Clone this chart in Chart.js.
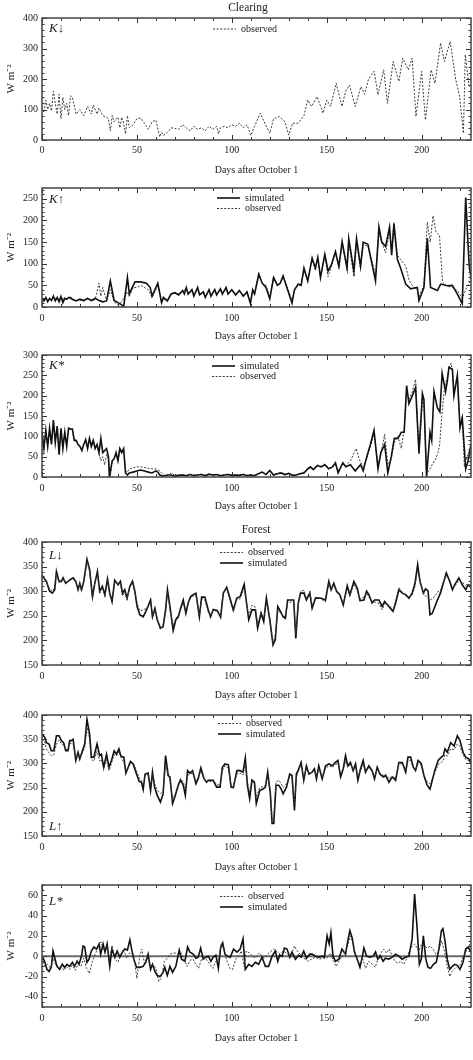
<!DOCTYPE html>
<html>
<head>
<meta charset="utf-8">
<title>Clearing and forest radiation</title>
<script src="https://cdn.jsdelivr.net/npm/chart.js@4.4.1/dist/chart.umd.min.js"></script>
<style>
  html, body { margin: 0; padding: 0; background: #fff; }
  #wrap { position: relative; width: 473px; height: 1060px; }
  #wrap canvas { position: absolute; left: 0; }
</style>
</head>
<body>
<div id="wrap"></div>
<script>
// [day after October 1, W m-2]
const kDownObs = [[0,110],[1,90],[2,130],[3,100],[4,120],[5,95],[6,160],[7,120],[8,85],[9,150],[10,70],[11,140],[12,100],[13,120],[14,80],[15,145],[16,140],[18,85],[20,100],[22,80],[24,110],[26,85],[27,115],[29,85],[30,105],[32,80],[34,75],[35,70],[36,30],[37,80],[38,60],[40,75],[41,40],[42,75],[43,55],[44,20],[45,80],[46,40],[48,50],[50,70],[52,72],[54,55],[56,35],[58,60],[60,65],[62,10],[63,25],[64,15],[66,25],[68,40],[70,38],[72,35],[74,50],[76,40],[78,30],[80,45],[82,35],[84,40],[86,30],[88,45],[90,35],[92,45],[93,20],[94,40],[96,45],[98,40],[100,50],[102,45],[104,55],[106,40],[108,50],[110,15],[112,45],[115,88],[117,60],[120,22],[122,70],[125,77],[128,60],[130,16],[132,55],[135,55],[138,80],[140,131],[142,110],[145,142],[148,88],[150,131],[152,110],[155,186],[158,110],[160,160],[162,180],[165,110],[168,175],[170,150],[172,200],[175,225],[177,148],[180,230],[182,120],[185,257],[188,192],[190,268],[193,230],[195,268],[197,77],[200,225],[202,66],[205,230],[207,186],[210,318],[212,257],[215,323],[218,197],[220,142],[222,22],[223,280],[225,175]];

const kUpSim = [[0,20],[1,14],[2,22],[3,12],[4,20],[5,15],[6,25],[7,14],[8,22],[9,12],[10,24],[11,10],[12,20],[13,18],[14,22],[15,22],[16,18],[18,14],[20,18],[22,15],[24,20],[26,15],[28,20],[30,15],[32,12],[34,14],[36,60],[38,15],[40,10],[42,5],[43,0],[45,68],[46,30],[47,40],[49,58],[52,58],[55,55],[57,45],[58,25],[60,45],[61,55],[63,10],[64,22],[66,14],[68,30],[70,33],[72,28],[74,38],[75,30],[76,45],[77,30],[79,40],[80,25],[82,45],[83,28],[85,35],[86,22],[88,40],[89,25],[91,40],[92,28],[94,42],[95,30],[97,45],[98,30],[100,40],[102,28],[104,38],[106,25],[108,35],[109.8,8],[111,40],[112,30],[114.2,75],[116,55],[118,45],[120,19],[122,68],[124,50],[125.5,55],[127,72],[129,45],[131.7,9],[133,40],[135,53],[136.5,50],[138,90],[140,60],[142.3,113],[144,90],[145.3,115],[146.7,68],[149,122],[150.7,83],[152.5,98],[154.6,128],[156.4,94],[158.1,151],[160.7,90],[161.6,158],[164.3,83],[165.7,158],[167.8,94],[169.2,150],[171.7,145],[175.7,60],[177.5,185],[179,150],[181,140],[183.1,185],[184.2,120],[185.4,192],[187.2,110],[188.9,90],[191.6,53],[194.2,42],[197.7,45],[198.6,15],[201.2,45],[203,159],[204.7,45],[208.3,38],[210,53],[213.5,49],[216.2,50],[218.8,30],[221.4,8],[223.2,253],[225,98],[226,68]];
const kUpObs = [[0,18],[2,20],[4,17],[6,22],[8,18],[10,20],[12,18],[14,20],[16,17],[18,15],[20,16],[22,14],[24,18],[26,14],[28,17],[30,55],[31,25],[32,45],[33,30],[34,15],[36,40],[38,12],[40,5],[42,12],[43,20],[45,35],[46,25],[48,45],[50,45],[52,50],[54,45],[56,40],[58,22],[60,40],[61,48],[63,12],[64,20],[66,14],[68,30],[70,32],[72,30],[74,36],[76,42],[77,30],[79,38],[80,28],[82,42],[83,30],[85,34],[86,24],[88,38],[89,28],[91,38],[92,30],[94,40],[95,32],[97,42],[98,32],[100,38],[102,30],[104,36],[106,28],[108,32],[109.8,12],[111,38],[112,32],[114.2,80],[116,55],[118,50],[120,22],[122,70],[124,52],[125.5,55],[127,70],[129,48],[131.7,15],[133,40],[135,50],[136.5,52],[138,85],[140,62],[142.3,110],[144,85],[145.3,112],[146.7,72],[149,118],[150.7,70],[152.5,95],[154.6,125],[156.4,90],[158.1,148],[160.7,85],[161.6,150],[164.3,70],[165.7,150],[167.8,90],[169.2,145],[171.7,140],[175.7,75],[177.5,170],[179,150],[181,125],[183.1,175],[184.2,130],[185.4,196],[187.2,120],[188.9,110],[191.6,95],[193.5,60],[195,50],[197.7,40],[198.6,25],[201.2,50],[203,196],[204.5,150],[206,211],[207.5,174],[209.4,166],[211,57],[213.5,48],[216.2,45],[218.8,38],[221.4,20],[223.2,40],[225,55],[226,70]];

const kNetSim = [[0,110],[1,70],[2,115],[3,75],[4,120],[5,80],[6,140],[7,85],[8,125],[9,55],[10,120],[11,70],[12,110],[13,75],[14,120],[15,118],[16,118],[17,90],[18,90],[19,80],[20,75],[21,65],[22,80],[23,92],[24,70],[25,95],[26,75],[27,90],[28,70],[29,80],[30,60],[31,95],[32,60],[33,65],[34,70],[35,50],[35.5,0],[37,40],[38,45],[39,60],[40,40],[41,70],[42,60],[43,70],[44,10],[45,5],[46,10],[48,12],[50,15],[52,17],[54,15],[56,12],[58,10],[60,15],[61,12],[62,5],[64,2],[66,5],[68,5],[70,2],[72,4],[74,5],[76,3],[78,6],[80,3],[82,5],[84,6],[86,3],[88,7],[90,5],[92,6],[94,3],[96,5],[98,6],[100,4],[102,5],[104,4],[106,6],[108,3],[110,5],[112,3],[114,8],[116,12],[118,6],[120,16],[122,5],[124,8],[126,10],[128,6],[130,9],[132,4],[134,5],[136,8],[138,10],[140,20],[141.4,25],[143,18],[145,28],[147,25],[149,30],[151,20],[153,25],[154.6,35],[156,10],[158.5,35],[160,25],[162.5,30],[165,15],[167.8,30],[169.2,15],[171.4,55],[173,80],[174.9,115],[177,20],[178.5,60],[180.5,80],[182.2,10],[184,50],[185.6,95],[187.5,95],[189.3,110],[190.8,110],[192.1,225],[193.3,180],[195.1,200],[196.8,220],[198.6,60],[200.4,205],[201.2,190],[202.6,0],[204.4,110],[205.3,90],[206.5,210],[208.3,170],[209.6,160],[210.8,255],[212.6,210],[213.5,235],[214.4,270],[216.2,265],[217,200],[218.8,250],[220.2,120],[221.4,145],[223.2,20],[224.5,40],[226,80]];
const kNetObs = [[0,105],[1,75],[2,110],[3,80],[4,115],[5,85],[6,135],[7,90],[8,120],[9,60],[10,115],[11,75],[12,110],[13,80],[14,118],[15,118],[16,115],[17,90],[18,88],[19,80],[20,75],[21,68],[22,80],[23,90],[24,72],[25,92],[26,75],[27,88],[28,72],[29,78],[30,60],[31,40],[32,50],[33,30],[34,55],[35,45],[36,2],[37,38],[38,45],[39,58],[40,42],[41,68],[42,60],[43,68],[44,15],[45,12],[46,20],[48,22],[50,25],[52,25],[55,22],[58,20],[60,20],[62,15],[64,5],[66,3],[68,10],[70,4],[72,5],[74,6],[76,4],[78,7],[80,4],[82,6],[84,7],[86,4],[88,6],[90,5],[92,6],[94,4],[96,5],[98,6],[100,5],[102,4],[104,5],[106,7],[108,4],[110,6],[112,4],[114,9],[116,13],[118,7],[120,14],[122,6],[124,9],[126,10],[128,5],[130,8],[132,5],[134,6],[136,9],[138,12],[140,18],[141.4,22],[143,20],[145,30],[147,26],[149,32],[151,22],[153,24],[154.6,30],[156,15],[158.5,32],[160,28],[162.5,40],[164,55],[165.5,70],[167,45],[169.2,25],[171.4,50],[173,75],[174.9,105],[177,30],[178.5,55],[180.5,105],[182.2,30],[184,45],[185.6,85],[187.5,100],[189.3,70],[190.8,120],[192.1,215],[193.3,190],[195.1,210],[196.8,240],[198.6,55],[200.4,195],[201.2,175],[202.6,10],[203.8,15],[205.5,30],[207.5,45],[208.6,60],[209.5,80],[210.6,150],[212,220],[213.5,245],[214.4,270],[215.5,280],[216.2,260],[217,210],[218.8,245],[220.2,130],[221.4,150],[222.5,25],[224,50],[226,75]];

const lDownObs = [[0,325],[0.5,330],[2.3,318],[4,305],[5.5,300],[6.7,308],[7.6,335],[9,318],[10.2,322],[11.1,325],[12.5,318],[14.6,322],[16.4,325],[17.8,318],[19,305],[19.9,315],[20.8,300],[22,318],[23.7,360],[25.1,340],[26.6,285],[27.8,318],[29.2,335],[30.4,295],[31.8,308],[33.1,288],[34.5,320],[35.7,292],[36.9,282],[38.3,318],[40.1,315],[41.3,316],[42.4,290],[43.6,298],[44.8,282],[46.3,312],[47.7,318],[48.9,298],[50.1,275],[51.5,260],[53.3,262],[55.1,265],[57.2,278],[58.2,252],[59.5,262],[60.7,245],[62.4,222],[63.8,230],[65.1,258],[66.1,298],[67.4,262],[69.1,230],[70.5,245],[71.8,252],[73,262],[74.4,276],[75.8,258],[77,278],[78.3,286],[79.7,290],[81.1,292],[82.9,252],[84.1,285],[85.8,282],[87.6,258],[88.8,250],[90.2,262],[92.3,258],[94.1,250],[95.5,298],[97.3,305],[99,282],[100.8,258],[102.6,282],[104.4,285],[106.5,306],[108.9,250],[110.6,272],[112.4,268],[113.6,232],[115.4,258],[116.8,245],[118.2,278],[120,245],[121.7,194],[122.9,210],[124.2,262],[125.6,255],[127,250],[128.2,248],[129.4,276],[131.2,278],[132.6,280],[133.7,212],[135,272],[136.2,300],[138,302],[139.3,285],[141.1,300],[142.3,270],[144.1,288],[146.7,285],[149.3,278],[151.1,315],[152.3,305],[153.7,312],[155.2,298],[156.9,292],[158.7,275],[160.8,305],[162.2,290],[164.3,315],[166.1,300],[167.5,285],[169.6,288],[171,296],[172.2,288],[173.9,280],[175.2,278],[177.5,275],[179.2,262],[180.5,275],[182.7,272],[184.9,262],[186.3,280],[188,308],[189.8,298],[191.6,290],[193.3,288],[195,292],[196.5,310],[197.9,345],[199.1,322],[200.9,298],[202.1,290],[203.4,285],[204.4,282],[205.6,285],[207,290],[208.3,298],[209.9,302],[211.4,318],[213,332],[214.8,322],[216.2,308],[217.4,310],[219.6,322],[221.4,318],[223.2,312],[224.5,315],[226,305]];
const lDownSim = [[0,328],[0.5,330],[2.3,320],[4,300],[5.5,296],[6.7,303],[7.6,340],[9,320],[10.2,320],[11.1,327],[12.5,316],[14.6,323],[16.4,327],[17.8,320],[19,303],[19.9,316],[20.8,303],[22,320],[23.7,365],[25.1,344],[26.6,289],[27.8,316],[29.2,340],[30.4,300],[31.8,310],[33.1,293],[34.5,325],[35.7,296],[36.9,279],[38.3,322],[40.1,313],[41.3,320],[42.4,296],[43.6,303],[44.8,286],[46.3,310],[47.7,320],[48.9,300],[50.1,269],[51.5,252],[53.3,248],[55.1,262],[57.2,282],[58.2,248],[59.5,265],[60.7,242],[62.4,225],[63.8,228],[65.1,262],[66.1,303],[67.4,269],[69.1,220],[70.5,242],[71.8,248],[73,265],[74.4,282],[75.8,255],[77,276],[78.3,289],[79.7,293],[81.1,296],[82.9,248],[84.1,288],[85.8,288],[87.6,262],[88.8,248],[90.2,263],[92.3,261],[94.1,247],[95.5,296],[97.3,308],[99,286],[100.8,262],[102.6,286],[104.4,289],[106.5,314],[108.9,242],[110.6,262],[112.4,262],[113.6,225],[115.4,255],[116.8,238],[118.2,286],[120,242],[121.7,191],[122.9,201],[124.2,269],[125.6,259],[127,248],[128.2,245],[129.4,282],[131.2,282],[132.6,282],[133.7,204],[135,276],[136.2,296],[138,296],[139.3,282],[141.1,296],[142.3,265],[144.1,286],[146.7,286],[149.3,282],[151.1,320],[152.3,303],[153.7,316],[155.2,300],[156.9,293],[158.7,272],[160.8,311],[162.2,293],[164.3,320],[166.1,306],[167.5,281],[169.6,282],[171,300],[172.2,293],[173.9,276],[175.2,282],[177.5,282],[179.2,269],[180.5,279],[182.7,269],[184.9,259],[186.3,276],[188,303],[189.8,296],[191.6,293],[193.3,286],[195,296],[196.5,316],[197.9,354],[199.1,320],[200.9,296],[202.1,305],[203.4,300],[204.4,252],[205.6,255],[207,269],[208.3,282],[209.9,296],[211.4,316],[213,337],[214.8,320],[216.2,303],[217.4,313],[219.6,327],[221.4,313],[223.2,303],[224.5,313],[226,311]];

const lUpObs = [[0,350],[1.4,345],[2.3,330],[3.7,322],[4.9,316],[6.2,318],[7.6,340],[9,348],[10.2,340],[11.4,338],[12.5,328],[13.7,330],[14.6,340],[15.5,342],[16.4,340],[17.8,312],[19,318],[19.9,312],[21.3,322],[22.5,332],[23.7,375],[25.1,350],[26,308],[27.3,305],[29,325],[30.4,305],[31.3,308],[32.5,288],[34,308],[35.3,285],[36.6,300],[38,318],[39.2,315],[40.5,325],[41.5,312],[42.4,306],[43.1,305],[44.2,285],[45.4,290],[46.6,300],[48,302],[49.8,285],[51.2,270],[52.4,265],[53.3,255],[54.3,275],[55.9,276],[57.2,255],[58.2,278],[59.3,258],[60.7,245],[62.4,238],[63.8,242],[65.1,300],[66.5,272],[67.4,268],[68.8,225],[70,235],[71.8,258],[73,268],[74.4,262],[75.5,245],[76.7,275],[77.9,278],[79.3,280],[81.1,262],[82.3,270],[83.7,285],[85.3,268],[86.7,262],[87.6,265],[89,262],[90.2,265],[92,256],[93.8,255],[95,285],[96.4,295],[98.2,290],[99.6,255],[100.8,255],[102.7,278],[104.3,280],[105.9,276],[107.1,300],[108.2,262],[109.4,240],[110.6,268],[111.9,262],[112.9,230],[114.7,250],[116.4,252],[117.7,255],[118.9,275],[120.3,240],[121.2,185],[122.1,190],[123.3,262],[124.7,265],[126,258],[127,250],[128.8,258],[130.5,272],[131.7,272],[133,215],[134,272],[134.9,282],[136.5,298],[137.9,270],[139.3,290],[140.6,280],[142.3,282],[143.5,285],[144.6,272],[145.8,290],[147.6,272],[149.4,290],[151.1,295],[152.9,292],[154.6,298],[155.9,300],[157.3,278],[158.7,288],[159.9,305],[161.1,292],[162.5,298],[163.9,288],[165.2,292],[166.4,272],[167.8,285],[169.2,298],[170.4,285],[172.2,290],[173.9,284],[175.2,272],[176.6,288],[178,280],[179.8,275],[181,278],[182.8,268],[184.5,272],[186.3,270],[188,298],[189.8,300],[191.6,285],[192.8,305],[194.2,306],[195.6,292],[196.8,286],[198.1,300],[199.8,296],[201.2,275],[202.9,262],[204.4,258],[205.6,268],[206.9,280],[208.7,298],[210.4,302],[211.4,306],[212.3,318],[213.5,315],[215.3,330],[217.1,328],[218.8,340],[220.2,335],[221.8,318],[223.2,308],[225,305],[226,300]];
const lUpSim = [[0,360],[1.4,354],[2.3,343],[3.7,340],[4.9,326],[6.2,326],[7.6,357],[9,357],[10.2,347],[11.4,343],[12.5,326],[13.7,326],[14.6,347],[15.5,347],[16.4,350],[17.8,306],[19,323],[19.9,309],[21.3,326],[22.5,340],[23.7,391],[25.1,360],[26,313],[27.3,313],[29,340],[30.4,316],[31.3,319],[32.5,292],[34,319],[35.3,292],[36.6,306],[38,326],[39.2,319],[40.5,330],[41.5,316],[42.4,313],[43.1,313],[44.2,280],[45.4,292],[46.6,304],[48,299],[49.8,278],[51.2,263],[52.4,261],[53.3,246],[54.3,278],[55.9,280],[57.2,244],[58.2,282],[59.3,251],[60.7,234],[62.4,220],[63.8,237],[65.1,316],[66.5,275],[67.4,272],[68.8,217],[70,231],[71.8,255],[73,266],[74.4,255],[75.5,234],[76.7,285],[77.9,280],[79.3,285],[81.1,258],[82.3,269],[83.7,291],[85.3,269],[86.7,261],[87.6,265],[89,265],[90.2,265],[92,251],[93.8,251],[95,292],[96.4,299],[98.2,297],[99.6,251],[100.8,250],[102.7,285],[104.3,285],[105.9,282],[107.1,311],[108.2,255],[109.4,227],[110.6,265],[111.9,261],[112.9,217],[114.7,244],[116.4,247],[117.7,251],[118.9,282],[120.3,237],[121.2,176],[122.1,176],[123.3,255],[124.7,255],[126,247],[127,237],[128.8,251],[130.5,278],[131.7,275],[133,203],[134,278],[134.9,285],[136.5,302],[137.9,265],[139.3,295],[140.6,278],[142.3,282],[143.5,289],[144.6,268],[145.8,295],[147.6,268],[149.4,295],[151.1,299],[152.9,295],[154.6,302],[155.9,306],[157.3,272],[158.7,289],[159.9,316],[161.1,295],[162.5,302],[163.9,285],[165.2,299],[166.4,265],[167.8,289],[169.2,306],[170.4,282],[172.2,295],[173.9,285],[175.2,268],[176.6,292],[178,278],[179.8,272],[181,275],[182.8,261],[184.5,272],[186.3,265],[188,302],[189.8,302],[191.6,282],[192.8,313],[194.2,313],[195.6,292],[196.8,285],[198.1,306],[199.8,300],[201.2,275],[202.9,255],[204.4,247],[205.6,265],[206.9,285],[208.7,306],[210.4,313],[211.4,316],[212.3,330],[213.5,323],[215.3,343],[217.1,336],[218.8,357],[220.2,347],[221.8,323],[223.2,313],[225,309],[226,299]];

const lNetObs = [[0,-2],[1.5,-10],[3,-8],[4.5,-12],[5.8,-2],[7,-8],[8.5,-12],[10,-9],[11.5,-14],[13,-10],[14.5,-13],[16,-9],[17.5,-14],[19,-8],[20.5,-10],[22,-2],[23.5,-12],[25,-17],[26.5,-5],[28,2],[29.5,8],[31,14],[32.5,6],[34,10],[35.5,-2],[37,10],[38.5,-3],[40,-6],[41.5,2],[43,7],[44.5,-2],[46,3],[47.5,2],[49,-8],[50,-22],[51.5,0],[52.5,7],[54,-7],[55.5,0],[57,-10],[58.5,-8],[60,-12],[61.5,-25],[62.5,-22],[63.5,-15],[64.5,-5],[66,-2],[67.5,2],[69,3],[70.5,3],[72,2],[73.5,3],[75,-4],[76.5,-10],[78,-4],[79.5,-3],[81,-8],[82.5,-12],[84,-3],[85.5,-2],[87,-4],[88.5,-8],[90,-12],[91.5,-5],[93,-3],[94.5,13],[96,5],[97.5,-5],[99,-12],[100.5,-13],[102,-3],[103.5,0],[105,5],[106.5,-10],[107.5,5],[109.5,3],[112,-2],[114.5,3],[117,-2],[119.5,3],[122,7],[124,4],[125.5,2],[127,5],[129,3],[131,-1],[133,10],[134.5,5],[136,2],[138,-2],[140,-5],[142,-3],[144,-1],[146,-3],[148,-2],[150,-2],[152,3],[153.5,-5],[155,-10],[157,-3],[159,2],[161,10],[162.5,20],[164,12],[166,-4],[167.5,-8],[169,-3],[170.5,-12],[172,-5],[174,-8],[175.5,-11],[177,-3],[178.5,3],[180,7],[181.5,3],[183,7],[184.5,0],[186,-5],[187.5,-7],[189,-5],[190.5,-8],[192,-3],[193.5,5],[195,10],[196.3,12],[197.5,8],[198.5,5],[200,12],[201.5,10],[203,8],[204.5,10],[206,7],[207.5,2],[209,5],[210.5,15],[212,5],[213.5,-10],[214.8,-20],[216,-15],[217.5,-12],[219,-10],[220.5,-8],[222,0],[223.5,5],[225,10],[226,15]];
const lNetSim = [[0,0],[1.4,-5],[2.6,-13],[3.7,-15],[4.9,-11],[5.8,5],[6.9,-3],[7.9,-10],[9.3,-13],[10.7,-8],[11.9,-11],[13.2,-8],[14.6,-10],[16,-6],[17.2,-10],[18.5,-5],[19.5,-8],[20.8,0],[21.6,10],[22.5,9],[23.7,-6],[24.8,-3],[26,5],[27.3,9],[28.7,7],[30.1,12],[30.9,2],[32.2,12],[33.2,4],[34.3,12],[35.7,-10],[36.8,7],[38.3,-1],[39.6,5],[41,-1],[42.4,4],[43.6,7],[45,6],[46.3,16],[47.2,7],[48.4,-3],[49.8,-11],[51.5,-11],[53.3,-10],[54.7,-6],[55.9,2],[57.2,-13],[58.2,-8],[59.5,-15],[60.7,-19],[62.1,-20],[63.5,-17],[64.7,-11],[66,-19],[67.4,-10],[68.8,-16],[70.5,-10],[72.3,6],[73.5,-3],[75.3,-5],[76.7,9],[77.9,4],[79.7,2],[81.1,-2],[82.3,-1],[83.6,8],[84.9,-3],[86.4,-1],[87.6,0],[89,-5],[90.2,-1],[91.6,1],[92.9,-12],[94.1,8],[95.2,13],[96.4,2],[97.6,0],[99.2,-1],[100.9,7],[102.7,4],[104.4,7],[105.9,17],[107.1,-13],[108.9,-8],[110.6,-10],[112.4,-6],[114.1,-8],[115.9,-1],[117.7,-10],[119.4,-10],[121.2,0],[122.9,5],[124.2,-5],[125.2,1],[126.5,0],[127.7,8],[129.1,7],[130.5,-1],[131.7,4],[133.5,-3],[135.2,1],[136.5,-1],[137.9,5],[139.3,-2],[141.1,2],[142.3,2],[144.1,0],[145.8,-1],[147.6,0],[148.8,-1],[150.2,20],[151.3,12],[152.2,23],[153.3,0],[154.6,-5],[156.4,-3],[158,7],[159.9,2],[161.1,15],[162.2,25],[163.4,18],[164.6,4],[166.1,-3],[167.5,-11],[168.7,-1],[169.6,8],[171,0],[172.7,-1],[174.5,0],[175.7,4],[176.9,-3],[178.3,0],[179.7,-5],[180.9,-2],[182.7,-3],[184.5,-1],[186.3,2],[188,0],[189.8,-3],[191.6,-1],[193.3,0],[195,17],[196.3,61],[197.4,33],[198.8,-8],[199.8,-3],[200.9,20],[202.2,-3],[203.4,-11],[204.7,-12],[206.2,-8],[207.7,-6],[209.1,7],[210.4,25],[211.2,27],[212.3,15],[213.5,-3],[214.8,-13],[216.2,-10],[217.4,-8],[218.8,-9],[220.2,-13],[221.8,-6],[223.2,7],[224.5,9],[226,4]];

const xTicks = [0, 50, 100, 150, 200];
const xMax = 226;

const SERIF = '"Liberation Serif", "Times New Roman", serif';
const INK = '#222';

// one entry per stacked panel; page coordinates in px
const panels = [
  { top: 0, height: 178, plotTop: 18, plotBottom: 140, titlePad: 2, tickPad: 4,
    yMin: 0, yMax: 400, yTicks: [0, 100, 200, 300, 400], yMinor: 20,
    label: 'K↓', labelY: 10.5, legendX: 213, legendY: 11,
    heading: 'Clearing', headingX: 248, headingY: 8,
    series: [['observed', kDownObs]] },
  { top: 178, height: 167, plotTop: 185, plotBottom: 307, titlePad: 3, tickPad: 5,
    yMin: 0, yMax: 275, yTicks: [0, 50, 100, 150, 200, 250], yMinor: 10,
    label: 'K↑', labelY: 11.5, legendX: 217, legendY: 10,
    series: [['simulated', kUpSim], ['observed', kUpObs]] },
  { top: 345, height: 170, plotTop: 355, plotBottom: 477, titlePad: 3, tickPad: 5,
    yMin: 0, yMax: 300, yTicks: [0, 50, 100, 150, 200, 250, 300], yMinor: 10,
    label: 'K*', labelY: 11, legendX: 212, legendY: 11,
    series: [['simulated', kNetSim], ['observed', kNetObs]] },
  { top: 515, height: 190, plotTop: 542, plotBottom: 665, titlePad: 4, tickPad: 5,
    yMin: 150, yMax: 400, yTicks: [150, 200, 250, 300, 350, 400], yMinor: 10,
    label: 'L↓', labelY: 13.5, legendX: 220, legendY: 10.5,
    heading: 'Forest', headingX: 256, headingY: 15,
    series: [['observed', lDownObs], ['simulated', lDownSim]] },
  { top: 705, height: 170, plotTop: 714, plotBottom: 836, titlePad: 2, tickPad: 5,
    yMin: 150, yMax: 400, yTicks: [150, 200, 250, 300, 350, 400], yMinor: 10,
    label: 'L↑', labelBottom: 9.5, legendX: 218, legendY: 8.5,
    series: [['observed', lUpObs], ['simulated', lUpSim]] },
  { top: 875, height: 185, plotTop: 885, plotBottom: 1007, titlePad: 16, tickPad: 5,
    yMin: -50, yMax: 70, yTicks: [-40, -20, 0, 20, 40, 60], yMinor: 5,
    label: 'L*', labelY: 16.5, legendX: 220, legendY: 11.5, zero: true,
    series: [['observed', lNetObs], ['simulated', lNetSim]] }
];

// frame with inward ticks, in-plot legend, panel symbol and heading
const decor = {
  id: 'decor',
  beforeDatasetsDraw(chart, args, o) {
    if (!o.zero) return;
    const { ctx, chartArea: a, scales: { y } } = chart;
    const py = y.getPixelForValue(0);
    ctx.save();
    ctx.strokeStyle = '#6a6a6a';
    ctx.lineWidth = 2;
    ctx.beginPath();
    ctx.moveTo(a.left, py);
    ctx.lineTo(a.right, py);
    ctx.stroke();
    ctx.restore();
  },
  afterDraw(chart, args, o) {
    const { ctx, chartArea: a, scales: { x, y } } = chart;
    ctx.save();
    ctx.strokeStyle = '#333';
    ctx.lineWidth = 1;
    ctx.beginPath();
    for (let d = 0; d <= xMax; d += 10) {
      const px = Math.round(x.getPixelForValue(d)) + 0.5;
      const len = d % 50 === 0 ? 5 : 3;
      ctx.moveTo(px, a.bottom); ctx.lineTo(px, a.bottom - len);
      ctx.moveTo(px, a.top); ctx.lineTo(px, a.top + len);
    }
    for (let v = o.yMin; v <= o.yMax; v += o.yMinor) {
      const py = Math.round(y.getPixelForValue(v)) + 0.5;
      const len = o.yTicks.includes(v) ? 5 : 2.5;
      ctx.moveTo(a.left, py); ctx.lineTo(a.left + len, py);
      ctx.moveTo(a.right, py); ctx.lineTo(a.right - len, py);
    }
    ctx.stroke();

    ctx.lineWidth = 1.5;
    ctx.strokeStyle = '#444';
    ctx.strokeRect(a.left, a.top, a.width, a.height);

    ctx.font = '10px ' + SERIF;
    ctx.textBaseline = 'middle';
    ctx.fillStyle = INK;
    chart.data.datasets.forEach((ds, i) => {
      const ly = a.top + o.legendY + i * 10.5;
      ctx.setLineDash(ds.borderDash);
      ctx.lineWidth = ds.borderWidth;
      ctx.strokeStyle = ds.borderColor;
      ctx.beginPath();
      ctx.moveTo(o.legendX, ly);
      ctx.lineTo(o.legendX + 23, ly);
      ctx.stroke();
      ctx.setLineDash([]);
      ctx.fillText(ds.label, o.legendX + 28, ly);
    });

    ctx.font = 'italic 13px ' + SERIF;
    const labelY = o.labelBottom ? a.bottom - o.labelBottom : a.top + o.labelY;
    ctx.fillText(o.label, a.left + 7, labelY);

    if (o.heading) {
      ctx.font = '11.5px ' + SERIF;
      ctx.textAlign = 'center';
      ctx.fillText(o.heading, o.headingX, o.headingY);
    }
    ctx.restore();
  }
};

const wrap = document.getElementById('wrap');

panels.forEach(p => {
  const canvas = document.createElement('canvas');
  canvas.width = 473;
  canvas.height = p.height;
  canvas.style.top = p.top + 'px';
  canvas.style.width = '473px';
  canvas.style.height = p.height + 'px';
  wrap.appendChild(canvas);

  const datasets = p.series.map(([name, rows]) => {
    const sim = name === 'simulated';
    return {
      label: name,
      data: rows.map(([d, v]) => ({ x: d, y: v })),
      borderColor: sim ? '#111' : '#3a3a3a',
      borderWidth: sim ? 1.6 : 1,
      borderDash: sim ? [] : [2, 1.6],
      pointRadius: 0,
      tension: 0,
      fill: false
    };
  });

  new Chart(canvas, {
    type: 'line',
    data: { datasets },
    plugins: [decor],
    options: {
      responsive: false,
      animation: false,
      events: [],
      layout: { padding: { top: p.plotTop - p.top, right: 2, left: 0, bottom: 0 } },
      plugins: {
        legend: { display: false },
        tooltip: { enabled: false },
        decor: p
      },
      scales: {
        x: {
          type: 'linear',
          min: 0,
          max: xMax,
          grid: { display: false, drawTicks: false },
          border: { display: false },
          afterBuildTicks: s => { s.ticks = xTicks.map(v => ({ value: v })); },
          afterFit: s => { s.height = p.top + p.height - p.plotBottom; },
          ticks: { padding: p.tickPad, color: INK, font: { family: SERIF, size: 10 }, maxRotation: 0, autoSkip: false },
          title: {
            display: true,
            text: 'Days after October 1',
            color: INK,
            font: { family: SERIF, size: 10, lineHeight: 1.2 },
            padding: { top: 0, bottom: p.titlePad }
          }
        },
        y: {
          min: p.yMin,
          max: p.yMax,
          grid: { display: false, drawTicks: false },
          border: { display: false },
          afterBuildTicks: s => { s.ticks = p.yTicks.map(v => ({ value: v })); },
          afterFit: s => { s.width = 42; },
          ticks: { padding: 4, color: INK, font: { family: SERIF, size: 10 } },
          title: {
            display: true,
            text: 'W m⁻²',
            color: INK,
            font: { family: SERIF, size: 11, lineHeight: 1.2 },
            padding: { top: 5, bottom: 0 }
          }
        }
      }
    }
  });
});
</script>
</body>
</html>
